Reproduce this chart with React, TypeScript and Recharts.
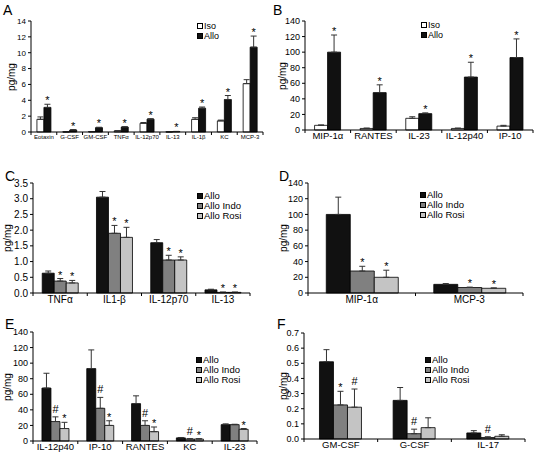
import { BarChart, Bar, XAxis, YAxis, ErrorBar, LabelList } from 'recharts';

// A
const catsA = ['Eotaxin', 'G-CSF', 'GM-CSF', 'TNFα', 'IL-12p70', 'IL-13', 'IL-1β', 'KC', 'MCP-3'];
const isoA = [1.6, 0.02, 0.05, 0.15, 1.1, 0.02, 1.6, 1.4, 6.1];
const isoErrA = [0.3, 0, 0, 0, 0.1, 0, 0.2, 0.1, 0.5];
const alloA = [3.1, 0.25, 0.55, 0.62, 1.62, 0.06, 3.0, 4.1, 10.7];
const alloErrA = [0.4, 0.05, 0.05, 0.05, 0.05, 0.02, 0.15, 0.5, 1.4];
const markA = ['*', '*', '*', '*', '*', '*', '*', '*', '*'];

// B
const catsB = ['MIP-1α', 'RANTES', 'IL-23', 'IL-12p40', 'IP-10'];
const isoB = [6, 2, 15, 2, 5];
const isoErrB = [0.5, 0.5, 2, 0.5, 1];
const alloB = [100, 48, 21, 68, 93];
const alloErrB = [22, 10, 1, 19, 24];
const markB = ['*', '*', '*', '*', '*'];

// C
const catsC = ['TNFα', 'IL1-β', 'IL-12p70', 'IL-13'];
const alloC = [0.63, 3.05, 1.6, 0.1];
const alloErrC = [0.07, 0.18, 0.1, 0.02];
const indoC = [0.38, 1.9, 1.05, 0.02];
const indoErrC = [0.08, 0.25, 0.15, 0.01];
const rosiC = [0.32, 1.77, 1.05, 0.02];
const rosiErrC = [0.08, 0.32, 0.1, 0.01];
const indoMarkC = ['*', '*', '*', '*'];
const rosiMarkC = ['*', '*', '*', '*'];

// D
const catsD = ['MIP-1α', 'MCP-3'];
const alloD = [100, 11];
const alloErrD = [22, 1];
const indoD = [28, 7];
const indoErrD = [6, 0.5];
const rosiD = [20, 6];
const rosiErrD = [9, 0.5];
const indoMarkD = ['*', '*'];
const rosiMarkD = ['*', '*'];

// E
const catsE = ['IL-12p40', 'IP-10', 'RANTES', 'KC', 'IL-23'];
const alloE = [68, 93, 48, 4, 21];
const alloErrE = [19, 24, 10, 0.5, 1];
const indoE = [25, 42, 20, 2.5, 21];
const indoErrE = [6, 14, 6, 0.5, 0.5];
const rosiE = [16, 20, 12, 2.5, 15];
const rosiErrE = [8, 6, 6, 0.5, 1];
const indoMarkE = ['#', '#', '#', '#', ''];
const rosiMarkE = ['*', '*', '*', '*', '*'];

// F
const catsF = ['GM-CSF', 'G-CSF', 'IL-17'];
const alloF = [0.51, 0.255, 0.04];
const alloErrF = [0.08, 0.085, 0.015];
const indoF = [0.225, 0.035, 0.01];
const indoErrF = [0.09, 0.03, 0.005];
const rosiF = [0.21, 0.075, 0.018];
const rosiErrF = [0.12, 0.065, 0.01];
const indoMarkF = ['*', '#', '#'];
const rosiMarkF = ['#', '', ''];

const ticks140 = [0, 20, 40, 60, 80, 100, 120, 140];

const FONT = '"Liberation Sans", Arial, Helvetica, sans-serif';
const ISO = '#ffffff';
const ALLO = '#111111';
const INDO = '#808080';
const ROSI = '#c4c4c4';

interface Series {
  name: string;
  fill: string;
  values: number[];
  errors: number[];
  marks: string[];
}

interface PanelProps {
  letter: string;
  left: number;
  top: number;
  width: number;
  height: number;
  margin: { top: number; right: number; bottom: number; left: number };
  yWidth: number;
  xHeight: number;
  cats: string[];
  series: Series[];
  yMax: number;
  yTicks: number[];
  decimals: number;
  yFont: number;
  xFont: number;
  gap: string;
  legendX: number;
  legendY: number;
  legendRow: number;
  legendFont: number;
  titleX: number;
  letterX: number;
  letterY: number;
}

function CatTick(props: any) {
  const { x, y, payload, index, visibleTicksCount, fontSize } = props;
  const half = payload && typeof payload.offset === 'number' ? payload.offset : 0;
  const axisY = y - 2;
  return (
    <g>
      {half > 0 && <line x1={x - half} x2={x - half} y1={axisY} y2={axisY + 3} stroke="#000" />}
      {half > 0 && index === visibleTicksCount - 1 && (
        <line x1={x + half} x2={x + half} y1={axisY} y2={axisY + 3} stroke="#000" />
      )}
      <text x={x} y={y} dy="0.75em" textAnchor="middle" fontSize={fontSize} fill="#000" fontFamily={FONT}>
        {payload.value}
      </text>
    </g>
  );
}

const markLabel = (s: Series) => (props: any) => {
  const idx = props.index;
  const m = s.marks[idx];
  if (!m) return null;
  const vb = props.viewBox ?? props;
  const x = Number(vb.x);
  const y = Number(vb.y);
  const w = Number(vb.width);
  const h = Math.abs(Number(vb.height));
  const perUnit = s.values[idx] ? h / s.values[idx] : 0;
  const top = y - s.errors[idx] * perUnit;
  const star = m === '*';
  return (
    <text
      x={x + w / 2}
      y={top - (star ? 0 : 4)}
      textAnchor="middle"
      fontSize={star ? 11 : 11}
      fill="#000"
      fontFamily={FONT}
    >
      {m}
    </text>
  );
};

function Panel(p: PanelProps) {
  const rows = p.cats.map((c, i) => {
    const r: Record<string, any> = { name: c };
    p.series.forEach((s, k) => {
      r['v' + k] = s.values[i];
      r['e' + k] = [0, s.errors[i]];
      r['m' + k] = s.marks[i];
    });
    return r;
  });
  return (
    <div style={{ position: 'absolute', left: p.left, top: p.top, width: p.width, height: p.height }}>
      <BarChart
        width={p.width}
        height={p.height}
        data={rows}
        margin={p.margin}
        barCategoryGap={p.gap}
        barGap={0}
      >
        <XAxis
          dataKey="name"
          height={p.xHeight}
          interval={0}
          tickSize={0}
          tickMargin={2}
          axisLine={{ stroke: '#000' }}
          tick={<CatTick fontSize={p.xFont} />}
        />
        <YAxis
          width={p.yWidth}
          domain={[0, p.yMax]}
          ticks={p.yTicks}
          interval={0}
          tickSize={3}
          tickMargin={2}
          axisLine={{ stroke: '#000' }}
          tickLine={{ stroke: '#000' }}
          tick={{ fontSize: p.yFont, fill: '#000', fontFamily: FONT }}
          tickFormatter={(v: number) => v.toFixed(p.decimals)}
        />
        {p.series.map((s, k) => (
          <Bar
            key={s.name}
            dataKey={'v' + k}
            fill={s.fill}
            stroke="#000"
            strokeWidth={0.8}
            isAnimationActive={false}
          >
            <ErrorBar dataKey={'e' + k} width={3} stroke="#333" strokeWidth={1} direction="y" />
            <LabelList dataKey={'m' + k} content={markLabel(s)} />
          </Bar>
        ))}
      </BarChart>
      <div
        style={{
          position: 'absolute',
          left: p.letterX,
          top: p.letterY,
          fontFamily: FONT,
          fontSize: 14,
          lineHeight: '14px',
        }}
      >
        {p.letter}
      </div>
      <div
        style={{
          position: 'absolute',
          left: p.titleX - 30,
          top: p.margin.top + (p.height - p.margin.top - p.margin.bottom - p.xHeight) / 2 - 6,
          width: 60,
          height: 12,
          lineHeight: '12px',
          textAlign: 'center',
          transform: 'rotate(-90deg)',
          fontFamily: FONT,
          fontSize: 10,
        }}
      >
        pg/mg
      </div>
      <div style={{ position: 'absolute', left: p.legendX, top: p.legendY, fontFamily: FONT, fontSize: p.legendFont }}>
        {p.series.map((s) => (
          <div key={s.name} style={{ display: 'flex', alignItems: 'center', height: p.legendRow, whiteSpace: 'nowrap' }}>
            <span
              style={{
                display: 'inline-block',
                width: 4,
                height: 4,
                border: '1px solid #000',
                background: s.fill,
                marginRight: 1,
              }}
            />
            <span style={{ lineHeight: `${p.legendRow}px` }}>{s.name}</span>
          </div>
        ))}
      </div>
    </div>
  );
}

const three = (
  av: number[], ae: number[], iv: number[], ie: number[], im: string[], rv: number[], re: number[], rm: string[]
): Series[] => [
  { name: 'Allo', fill: ALLO, values: av, errors: ae, marks: av.map(() => '') },
  { name: 'Allo Indo', fill: INDO, values: iv, errors: ie, marks: im },
  { name: 'Allo Rosi', fill: ROSI, values: rv, errors: re, marks: rm },
];

const seriesA: Series[] = [
  { name: 'Iso', fill: ISO, values: isoA, errors: isoErrA, marks: isoA.map(() => '') },
  { name: 'Allo', fill: ALLO, values: alloA, errors: alloErrA, marks: markA },
];
const seriesB: Series[] = [
  { name: 'Iso', fill: ISO, values: isoB, errors: isoErrB, marks: isoB.map(() => '') },
  { name: 'Allo', fill: ALLO, values: alloB, errors: alloErrB, marks: markB },
];

export default function App() {
  return (
    <div style={{ position: 'absolute', left: 0, top: 0, width: 539, height: 457, background: '#fff', overflow: 'hidden' }}>
      <Panel
        letter="A" left={0} top={0} width={270} height={150}
        margin={{ top: 21, right: 7, bottom: 4, left: 0 }} yWidth={31} xHeight={14}
        cats={catsA} series={seriesA} yMax={14} yTicks={[0, 2, 4, 6, 8, 10, 12, 14]} decimals={0}
        yFont={8} xFont={6} gap="23%" legendX={197} legendY={21} legendRow={10} legendFont={9}
        titleX={12} letterX={3} letterY={3}
      />
      <Panel
        letter="B" left={270} top={0} width={269} height={150}
        margin={{ top: 21, right: 6, bottom: 4, left: 0 }} yWidth={35} xHeight={16}
        cats={catsB} series={seriesB} yMax={140} yTicks={ticks140} decimals={0}
        yFont={9} xFont={9.5} gap="21%" legendX={151} legendY={20} legendRow={10} legendFont={9}
        titleX={13} letterX={3} letterY={3}
      />
      <Panel
        letter="C" left={0} top={150} width={270} height={160}
        margin={{ top: 33, right: 20, bottom: 2, left: 0 }} yWidth={33} xHeight={15}
        cats={catsC}
        series={three(alloC, alloErrC, indoC, indoErrC, indoMarkC, rosiC, rosiErrC, rosiMarkC)}
        yMax={3.5} yTicks={[0, 0.5, 1, 1.5, 2, 2.5, 3, 3.5]} decimals={1}
        yFont={10} xFont={10} gap="17%" legendX={197} legendY={41} legendRow={10} legendFont={9.5}
        titleX={8} letterX={5} letterY={19}
      />
      <Panel
        letter="D" left={270} top={150} width={269} height={160}
        margin={{ top: 33, right: 16, bottom: 2, left: 0 }} yWidth={38} xHeight={15}
        cats={catsD}
        series={three(alloD, alloErrD, indoD, indoErrD, indoMarkD, rosiD, rosiErrD, rosiMarkD)}
        yMax={140} yTicks={ticks140} decimals={0}
        yFont={9} xFont={10} gap="17%" legendX={150} legendY={40} legendRow={10} legendFont={9.5}
        titleX={14} letterX={9} letterY={19}
      />
      <Panel
        letter="E" left={0} top={300} width={270} height={157}
        margin={{ top: 32, right: 13, bottom: 2, left: 0 }} yWidth={33} xHeight={14}
        cats={catsE}
        series={three(alloE, alloErrE, indoE, indoErrE, indoMarkE, rosiE, rosiErrE, rosiMarkE)}
        yMax={140} yTicks={ticks140} decimals={0}
        yFont={9} xFont={9.5} gap="20%" legendX={196} legendY={55} legendRow={10} legendFont={9.5}
        titleX={8} letterX={5} letterY={17}
      />
      <Panel
        letter="F" left={270} top={300} width={269} height={157}
        margin={{ top: 33, right: 14, bottom: 2, left: 0 }} yWidth={34} xHeight={16}
        cats={catsF}
        series={three(alloF, alloErrF, indoF, indoErrF, indoMarkF, rosiF, rosiErrF, rosiMarkF)}
        yMax={0.7} yTicks={[0, 0.1, 0.2, 0.3, 0.4, 0.5, 0.6, 0.7]} decimals={1}
        yFont={9} xFont={9.5} gap="21%" legendX={155} legendY={55} legendRow={10} legendFont={9.5}
        titleX={14} letterX={7} letterY={17}
      />
    </div>
  );
}
